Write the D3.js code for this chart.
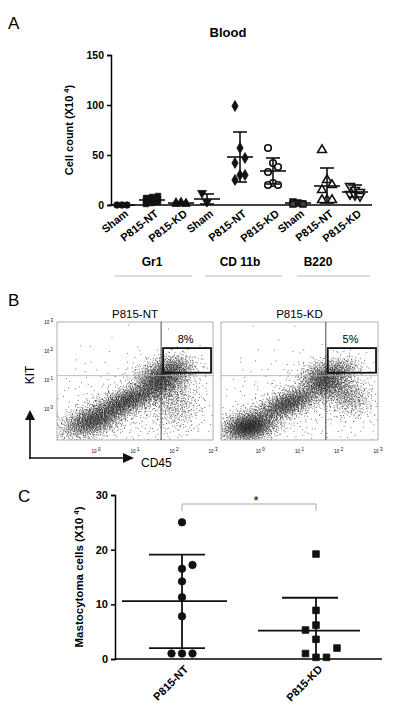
<!DOCTYPE html><html><head><meta charset="utf-8">
<script src="https://cdn.jsdelivr.net/npm/d3@7"></script>
<style>body{margin:0;background:#fff}text{font-family:"Liberation Sans",Arial,sans-serif}</style></head><body>
<svg id="s" width="400" height="719"></svg>
<script>
// ---- Panel A data ----
const aCategories = ["Sham","P815-NT","P815-KD","Sham","P815-NT","P815-KD","Sham","P815-NT","P815-KD"];
const aGroups = ["Gr1","CD 11b","B220"];
const aShapes = ["circle","square","triangle","triangleDown","diamond","circleOpen","squareOpen","triangleOpen","triangleDownOpen"];
const aValues = [
 [0,0,0],
 [1,2,3,4,5,6,7,8,9],
 [1,1.5,2,2.5,3,1],
 [12,3],
 [99,57,47,42,30,30,25],
 [57,42,38,33,22,20,20],
 [3,2,1,1],
 [55,25,20,15,5,5,5],
 [19,15,13,11,10,9]];
const aMean = [0,5,2,6,48,34,2,19,13];
const aSDhi = [0,9,3,11,73,47,4,37,20];
const aSDlo = [0,1,1,1,23,21,0,2,8];
const aTicks = [0,50,100,150];
// ---- Panel B data (cluster descriptions in log10 units) ----
const bTitles = ["P815-NT","P815-KD"];
const bPct = ["8%","5%"];
// [cx, cy, sx, sy, angle(rad), count]
const bClustersNT = [[-0.1,-0.4,0.45,0.25,0.45,1500],[0.8,0.3,0.5,0.22,0.5,1500],[1.6,1.0,0.35,0.3,0.7,1300],[2.0,1.4,0.3,0.25,0.3,600],[2.0,0.2,0.35,0.5,0,500],[1,0,1.3,1.0,0,400]];
const bClustersKD = [[-0.3,-0.6,0.35,0.25,0.3,1800],[0.7,0.2,0.5,0.22,0.55,1500],[1.6,1.0,0.3,0.3,0.7,1100],[2.0,1.4,0.3,0.2,0.3,350],[2.2,0.5,0.3,0.4,0.5,600],[1,0,1.3,1.0,0,400]];
const bTickLabels = ["0","1","2","3"];
// ---- Panel C data ----
const cCategories = ["P815-NT","P815-KD"];
const cNT = [25,17.2,16.5,14.2,11.3,7.8,1,1,1];
const cNTdx = [0,1,0,0,0,0,-1,0,1];
const cKD = [19.2,8.9,6.2,5.3,3.6,1,0.3,0.3,2];
const cKDdx = [0,0,0,-1,0,-1,0,1,2];
const cMean = [10.6,5.2];
const cSDhi = [19.1,11.2];
const cSDlo = [2.0,0];
const cTicks = [0,10,20,30];

const svg = d3.select("#s");
// ================= Panel A =================
svg.append("text").attr("x",8).attr("y",29).attr("font-size",17).text("A");
svg.append("text").attr("x",228).attr("y",37).attr("font-size",13).attr("font-weight","bold").attr("text-anchor","middle").text("Blood");
const ay = d3.scaleLinear().domain([0,150]).range([205,55]);
const aPos = [122,152,181,207,240,273,298,327,355];
const gA = svg.append("g");
gA.append("g").attr("transform","translate(111,0)").call(d3.axisLeft(ay).tickValues(aTicks).tickSize(4))
 .call(g=>{g.selectAll("text").attr("font-size",10.5).attr("font-weight","bold");g.selectAll("path,line").attr("stroke","#000").attr("stroke-width",1.5);});
gA.append("line").attr("x1",111).attr("x2",372).attr("y1",205).attr("y2",205).attr("stroke","#000").attr("stroke-width",1.5);
gA.append("text").attr("transform","translate(73,130) rotate(-90)").attr("text-anchor","middle").attr("font-size",11).attr("font-weight","bold")
 .html('Cell count (X10 <tspan dy="-4" font-size="7.5">4</tspan><tspan dy="4">)</tspan>');
function sym(g,shape,x,y,s){
  const open = shape.endsWith("Open");
  const base = shape.replace("Open","");
  const map={circle:d3.symbolCircle,square:d3.symbolSquare,triangle:d3.symbolTriangle,triangleDown:d3.symbolTriangle,diamond:d3.symbolDiamond};
  g.append("path").attr("d",d3.symbol().type(map[base]).size(s)())
   .attr("transform",`translate(${x},${y})`+(base==="triangleDown"?" rotate(180)":""))
   .attr("fill",open?"#fff":"#111").attr("stroke","#111").attr("stroke-width",open?1.6:0.8);
}
aValues.forEach((vals,i)=>{
  const cx = aPos[i];
  vals.forEach((v,j)=>{
    const dx = vals.length<=1?0:((j%3)-1)*5*(i==1?1.2:1);
    sym(gA,aShapes[i],cx+dx,ay(v),i==1||i==2?30:34);
  });
  const g=gA.append("g").attr("stroke","#111").attr("stroke-width",1.6);
  g.append("line").attr("x1",cx-13).attr("x2",cx+13).attr("y1",ay(aMean[i])).attr("y2",ay(aMean[i]));
  g.append("line").attr("x1",cx).attr("x2",cx).attr("y1",ay(aSDhi[i])).attr("y2",ay(aSDlo[i]));
  [aSDhi[i],aSDlo[i]].forEach(v=>g.append("line").attr("x1",cx-7).attr("x2",cx+7).attr("y1",ay(v)).attr("y2",ay(v)));
});
aCategories.forEach((c,i)=>{
  gA.append("text").attr("transform",`translate(${aPos[i]+7},${215}) rotate(-38)`).attr("text-anchor","end").attr("font-size",11).attr("font-weight","bold").text(c);
});
const grpX=[152,240,318], grpL=[[115,192],[205,282],[297,370]];
aGroups.forEach((g,i)=>{
  gA.append("text").attr("x",grpX[i]).attr("y",266).attr("text-anchor","middle").attr("font-size",12).attr("font-weight","bold").text(g);
  gA.append("line").attr("x1",grpL[i][0]).attr("x2",grpL[i][1]).attr("y1",276).attr("y2",276).attr("stroke","#bbb").attr("stroke-width",1);
});
// ================= Panel B =================
svg.append("text").attr("x",8).attr("y",306).attr("font-size",17).text("B");
const plots=[{x0:57,x1:213,cl:bClustersNT},{x0:221,x1:378,cl:bClustersKD}];
function halton(i,b){let f=1,r=0;while(i>0){f/=b;r+=f*(i%b);i=Math.floor(i/b);}return r;}
plots.forEach((p,k)=>{
  const bx=d3.scaleLinear().domain([-1,3]).range([p.x0,p.x1]);
  const by=d3.scaleLinear().domain([-1.07,3]).range([440,322]);
  const g=svg.append("g");
  g.append("text").attr("x",(p.x0+p.x1)/2).attr("y",318).attr("text-anchor","middle").attr("font-size",11.5).text(bTitles[k]);
  const cp=g.append("g");
  cp.append("clipPath").attr("id","c"+k).append("rect").attr("x",p.x0).attr("y",322).attr("width",p.x1-p.x0).attr("height",118);
  const dots=cp.append("g").attr("clip-path",`url(#c${k})`);
  let idx=1+k*7919;
  p.cl.forEach(([cx,cy,sx,sy,a,n])=>{
    for(let i=0;i<n;i++,idx++){
      const u1=Math.max(halton(idx,2),1e-4),u2=halton(idx,3);
      const r=Math.sqrt(-2*Math.log(u1)),t=2*Math.PI*u2;
      const ex=r*Math.cos(t)*sx, ey=r*Math.sin(t)*sy;
      const X=cx+ex*Math.cos(a)-ey*Math.sin(a), Y=cy+ex*Math.sin(a)+ey*Math.cos(a);
      dots.append("rect").attr("x",bx(X)).attr("y",by(Y)).attr("width",0.9).attr("height",0.9).attr("fill","#111").attr("opacity",0.7);
    }
  });
  g.append("rect").attr("x",p.x0).attr("y",322).attr("width",p.x1-p.x0).attr("height",118).attr("fill","none").attr("stroke","#999").attr("stroke-width",0.8);
  g.append("line").attr("x1",bx(1.67)).attr("x2",bx(1.67)).attr("y1",322).attr("y2",440).attr("stroke","#333").attr("stroke-width",0.9);
  g.append("line").attr("x1",p.x0).attr("x2",p.x1).attr("y1",by(1.15)).attr("y2",by(1.15)).attr("stroke","#aaa").attr("stroke-width",0.8);
  g.append("rect").attr("x",bx(1.72)).attr("y",by(2.1)).attr("width",bx(2.95)-bx(1.72)).attr("height",by(1.25)-by(2.1)).attr("fill","none").attr("stroke","#111").attr("stroke-width",1.8);
  g.append("text").attr("x",bx(2.3)).attr("y",343).attr("text-anchor","middle").attr("font-size",11).text(bPct[k]);
  bTickLabels.forEach((t,i)=>{
    g.append("text").attr("x",bx(i)).attr("y",453).attr("text-anchor","middle").attr("font-size",4.5).html(`10 <tspan dy="-2">${t}</tspan>`);
    if(k==0) g.append("text").attr("x",p.x0-4).attr("y",by(i)+2).attr("text-anchor","end").attr("font-size",4.5).html(`10 <tspan dy="-2">${t}</tspan>`);
  });
});
const ar=svg.append("g");
ar.append("line").attr("x1",30).attr("x2",30).attr("y1",459).attr("y2",418).attr("stroke","#111").attr("stroke-width",1.6);
ar.append("line").attr("x1",29).attr("x2",124).attr("y1",458).attr("y2",458).attr("stroke","#111").attr("stroke-width",1.6);
ar.append("path").attr("d","M25,420 L30,410 L35,420Z").attr("fill","#111");
ar.append("path").attr("d","M123,453 L134,458 L123,463Z").attr("fill","#111");
ar.append("text").attr("transform","translate(34,375) rotate(-90)").attr("text-anchor","middle").attr("font-size",12).text("KIT");
ar.append("text").attr("x",141).attr("y",467).attr("font-size",12).text("CD45");
// ================= Panel C =================
svg.append("text").attr("x",18).attr("y",502).attr("font-size",17).text("C");
const cy=d3.scaleLinear().domain([0,30]).range([659,495]);
const cx=d3.scalePoint().domain(cCategories).range([182,316]);
const gC=svg.append("g");
gC.append("g").attr("transform","translate(115,0)").call(d3.axisLeft(cy).tickValues(cTicks).tickSize(4))
 .call(g=>{g.selectAll("text").attr("font-size",11).attr("font-weight","bold");g.selectAll("path,line").attr("stroke","#000").attr("stroke-width",1.5);});
gC.append("line").attr("x1",115).attr("x2",382).attr("y1",659).attr("y2",659).attr("stroke","#000").attr("stroke-width",1.5);
gC.append("text").attr("transform","translate(83,577) rotate(-90)").attr("text-anchor","middle").attr("font-size",11.5).attr("font-weight","bold")
 .html('Mastocytoma cells (X10 <tspan dy="-4" font-size="7.5">4</tspan><tspan dy="4">)</tspan>');
[[cNT,cNTdx,"circle"],[cKD,cKDdx,"square"]].forEach(([vals,dx,sh],i)=>{
  const x=cx(cCategories[i]);
  const g=gC.append("g").attr("stroke","#111").attr("stroke-width",1.8);
  g.append("line").attr("x1",x-(i?58:60)).attr("x2",x+(i?44:45)).attr("y1",cy(cMean[i])).attr("y2",cy(cMean[i]));
  g.append("line").attr("x1",x).attr("x2",x).attr("y1",cy(cSDhi[i])).attr("y2",cy(cSDlo[i]));
  g.append("line").attr("x1",x-(i?34:33)).attr("x2",x+(i?22:23)).attr("y1",cy(cSDhi[i])).attr("y2",cy(cSDhi[i]));
  if(!i) g.append("line").attr("x1",x-33).attr("x2",x+23).attr("y1",cy(cSDlo[i])).attr("y2",cy(cSDlo[i]));
  vals.forEach((v,j)=>sym(gC,sh,x+dx[j]*10.5,cy(v),44));
  gC.append("text").attr("transform",`translate(${x+7},${670}) rotate(-45)`).attr("text-anchor","end").attr("font-size",11).attr("font-weight","bold").text(cCategories[i]);
});
gC.append("path").attr("d",`M${cx("P815-NT")},511 V504 H${cx("P815-KD")} V511`).attr("fill","none").attr("stroke","#aaa").attr("stroke-width",1);
gC.append("text").attr("x",256).attr("y",505).attr("text-anchor","middle").attr("font-size",13).text("*");
</script></body></html>
